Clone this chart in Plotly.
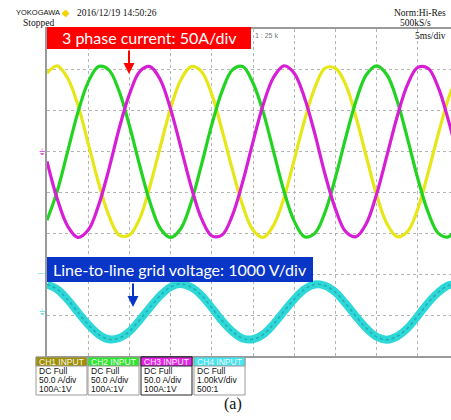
import plotly.graph_objects as go

# ---- data ----
time_ms = [0, 1.25, 2.5, 3.75, 5, 6.25, 7.5, 8.75, 10, 11.25, 12.5, 13.75, 15, 16.25, 17.5, 18.75,
           20, 21.25, 22.5, 23.75, 25, 26.25, 27.5, 28.75, 30, 31.25, 32.5, 33.75, 35, 36.25, 37.5,
           38.75, 40, 41.25, 42.5, 43.75, 45, 46.25, 47.5, 48.75, 50]
ch1_A = [96, 105, 90, 57, 10, -38, -78, -102, -102, -82, -42, 6, 53, 88, 104, 98, 70, 26, -22, -66,
         -96, -105, -90, -57, -10, 38, 78, 102, 102, 82, 42, -6, -53, -88, -104, -98, -70, -26, 22, 66, 96]
ch2_A = [-84, -48, 0, 48, 85, 104, 100, 74, 32, -17, -62, -94, -105, -94, -62, -16, 33, 74, 100, 104,
         84, 48, 0, -48, -85, -104, -100, -74, -32, 17, 62, 94, 105, 94, 62, 16, -33, -74, -100, -104, -84]
ch3_A = [-12, -58, -91, -105, -96, -66, -22, 28, 70, 98, 104, 88, 52, 5, -43, -82, -103, -102, -78, -37,
         12, 58, 91, 105, 96, 66, 22, -28, -70, -98, -104, -88, -52, -5, 43, 82, 103, 102, 78, 37, -12]
ch4_V = [670, 550, 300, -10, -310, -550, -670, -640, -480, -200, 110, 400, 610, 680, 600, 400, 100, -220,
         -480, -650, -670, -550, -300, 10, 310, 550, 670, 640, 480, 200, -110, -400, -610, -680, -600,
         -400, -100, 220, 480, 650, 670]

current_per_div = 50.0     # A/div
voltage_per_div = 1000.0   # V/div
ch4_offset_div = -3.92     # CH4 ground position (div)

channel_labels = ["CH1 INPUT", "CH2 INPUT", "CH3 INPUT", "CH4 INPUT"]
channel_lines = [["DC Full", "50.0 A/div", "100A:1V"],
                 ["DC Full", "50.0 A/div", "100A:1V"],
                 ["DC Full", "50.0 A/div", "100A:1V"],
                 ["DC Full", "1.00kV/div", "500:1"]]
channel_colors = ["#a09000", "#2ee62e", "#e626e6", "#44e6ef"]
trace_colors = ["#e6e619", "#22d322", "#d61ed6", "#2ed8d8"]

# ---- layout geometry (pixels) ----
W, H = 451, 420
L, R, T, B = 47, 451, 29, 356


def px(x):
    return (x - L) / (R - L)


def py(y):
    return (B - y) / (B - T)


fig = go.Figure()

ch4_div = [v / voltage_per_div + ch4_offset_div for v in ch4_V]
fig.add_trace(go.Scatter(x=time_ms, y=ch4_div, mode="lines",
                         line=dict(color=trace_colors[3], width=8, shape="spline", smoothing=1.0),
                         hoverinfo="skip"))
fig.add_trace(go.Scatter(x=time_ms, y=ch4_div, mode="lines",
                         line=dict(color="#137c78", width=1.5, shape="spline", smoothing=1.0, dash="dot"),
                         opacity=0.45, hoverinfo="skip"))
for vals, col in [(ch1_A, trace_colors[0]), (ch2_A, trace_colors[1]), (ch3_A, trace_colors[2])]:
    fig.add_trace(go.Scatter(x=time_ms, y=[v / current_per_div for v in vals], mode="lines",
                             line=dict(color=col, width=3.2, shape="spline", smoothing=1.0),
                             hoverinfo="skip"))

fig.update_layout(
    width=W, height=H, showlegend=False,
    paper_bgcolor="white", plot_bgcolor="white",
    margin=dict(l=L, r=W - R, t=T, b=H - B, pad=0),
    xaxis=dict(range=[0, (R - L) / 41.2 * 5], tickvals=[0, 5, 10, 15, 20, 25, 30, 35, 40, 45],
               showticklabels=False, ticks="", showgrid=True, gridcolor="#b4b4b4", griddash="dot",
               gridwidth=1, zeroline=False, showline=True, linecolor="#9a9a9a", linewidth=1.5,
               mirror=True),
    yaxis=dict(range=[-5, 3], tickvals=[-4, -3, -2, -1, 0, 1, 2], showticklabels=False, ticks="",
               showgrid=True, gridcolor="#b4b4b4", griddash="dot", gridwidth=1, zeroline=False,
               showline=True, linecolor="#9a9a9a", linewidth=1.5, mirror=False),
)

shapes = []
ann = []

# red label box + arrow
shapes.append(dict(type="rect", xref="paper", yref="paper", x0=px(47), x1=px(251), y0=py(49), y1=py(27),
                   fillcolor="#ff0000", line=dict(width=0), layer="above"))
ann.append(dict(xref="paper", yref="paper", x=px(149), y=py(38), text="3 phase current: 50A/div",
                showarrow=False, font=dict(family="Lato", size=16, color="white"), xanchor="center",
                yanchor="middle"))
ann.append(dict(xref="paper", yref="paper", x=px(129), y=py(74), ax=0, ay=-25, text="", showarrow=True,
                arrowhead=2, arrowsize=1.1, arrowwidth=2, arrowcolor="#ff0000"))

# blue label box + arrow
shapes.append(dict(type="rect", xref="paper", yref="paper", x0=px(47), x1=px(313), y0=py(282), y1=py(257),
                   fillcolor="#0a36c8", line=dict(width=0), layer="above"))
ann.append(dict(xref="paper", yref="paper", x=px(180), y=py(269.5), text="Line-to-line grid voltage: 1000 V/div",
                showarrow=False, font=dict(family="Lato", size=16, color="white"), xanchor="center",
                yanchor="middle"))
ann.append(dict(xref="paper", yref="paper", x=px(133), y=py(307), ax=0, ay=-25, text="", showarrow=True,
                arrowhead=2, arrowsize=1.1, arrowwidth=2, arrowcolor="#0a36c8"))

# header texts
ann.append(dict(xref="paper", yref="paper", x=px(14), y=py(13), text="YOKOGAWA", showarrow=False,
                xanchor="left", yanchor="middle", font=dict(family="Liberation Sans", size=7.5, color="#111")))
ann.append(dict(xref="paper", yref="paper", x=px(66), y=py(12), text="\u25c6", showarrow=False,
                xanchor="center", yanchor="middle", font=dict(family="DejaVu Sans", size=10, color="#f2d400")))
ann.append(dict(xref="paper", yref="paper", x=px(75), y=py(13), text="2016/12/19 14:50:26", showarrow=False,
                xanchor="left", yanchor="middle", font=dict(family="Liberation Serif", size=9.5, color="#111")))
ann.append(dict(xref="paper", yref="paper", x=px(21), y=py(23), text="Stopped", showarrow=False,
                xanchor="left", yanchor="middle", font=dict(family="Liberation Serif", size=9.5, color="#111")))
ann.append(dict(xref="paper", yref="paper", x=px(448), y=py(13), text="Norm:Hi-Res", showarrow=False,
                xanchor="right", yanchor="middle", font=dict(family="Liberation Serif", size=9.5, color="#111")))
ann.append(dict(xref="paper", yref="paper", x=px(398), y=py(23), text="500kS/s", showarrow=False,
                xanchor="left", yanchor="middle", font=dict(family="Liberation Serif", size=9.5, color="#111")))
ann.append(dict(xref="paper", yref="paper", x=px(253), y=py(35), text="1 : 25 k", showarrow=False,
                xanchor="left", yanchor="middle", font=dict(family="Liberation Sans", size=7, color="#777")))
ann.append(dict(xref="paper", yref="paper", x=px(448), y=py(36), text="5ms/div", showarrow=False,
                xanchor="right", yanchor="middle", font=dict(family="Liberation Serif", size=9.5, color="#111")))

# ground markers
ann.append(dict(xref="paper", yref="paper", x=px(42), y=py(152), text="\u23da", showarrow=False,
                xanchor="center", yanchor="middle", font=dict(family="DejaVu Sans", size=9, color="#e060e0")))
ann.append(dict(xref="paper", yref="paper", x=px(41), y=py(273), text="\u2014", showarrow=False,
                xanchor="center", yanchor="middle", font=dict(family="DejaVu Sans", size=8, color="#7fe0e8")))
ann.append(dict(xref="paper", yref="paper", x=px(42), y=py(312), text="\u23da", showarrow=False,
                xanchor="center", yanchor="middle", font=dict(family="DejaVu Sans", size=9, color="#7fe0e8")))

# channel boxes
box_x0 = [36, 88, 141, 194]
for i in range(4):
    x0, x1 = box_x0[i], box_x0[i] + 51
    border = "#222222" if i == 2 else "#9a9a9a"
    shapes.append(dict(type="rect", xref="paper", yref="paper", x0=px(x0), x1=px(x1), y0=py(395), y1=py(357),
                       fillcolor="white", line=dict(color=border, width=1)))
    shapes.append(dict(type="rect", xref="paper", yref="paper", x0=px(x0), x1=px(x1), y0=py(366), y1=py(357),
                       fillcolor=channel_colors[i], line=dict(color=border, width=1)))
    ann.append(dict(xref="paper", yref="paper", x=px(x0 + 1), y=py(361.5), text=channel_labels[i],
                    showarrow=False, xanchor="left", yanchor="middle",
                    font=dict(family="Liberation Sans", size=8.5, color="#f4f4f4")))
    for j, line_txt in enumerate(channel_lines[i]):
        ann.append(dict(xref="paper", yref="paper", x=px(x0 + 1), y=py(371.5 + 8.8 * j), text=line_txt,
                        showarrow=False, xanchor="left", yanchor="middle",
                        font=dict(family="Liberation Sans", size=8.5, color="#111")))

# caption
ann.append(dict(xref="paper", yref="paper", x=px(233), y=py(404), text="(a)", showarrow=False,
                xanchor="center", yanchor="middle", font=dict(family="Liberation Serif", size=16, color="#111")))

fig.update_layout(shapes=shapes, annotations=ann)
fig.write_html("out.html", config={"displayModeBar": False},
               post_script="document.body.style.margin='0';document.body.style.overflow='hidden';")
